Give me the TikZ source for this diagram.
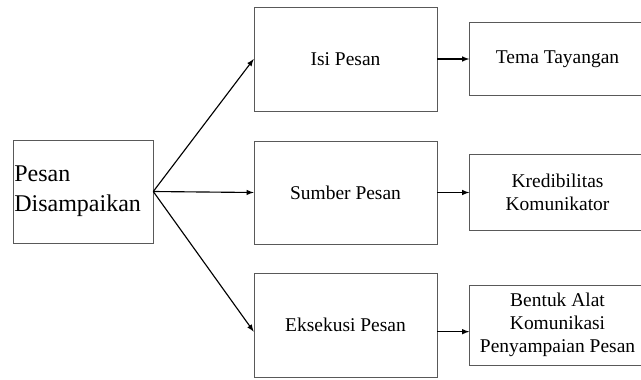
\documentclass[tikz,border=0pt]{standalone}
\usepackage{fontspec}
\setmainfont{Liberation Serif}
\usetikzlibrary{positioning}
\usetikzlibrary{arrows.meta}
\tikzset{
  -latex, line width=0.6pt,
  box/.style = {rectangle, draw=black!65, align=center, inner sep=1pt},
  start/.style = {box, align=left, text width=103pt, minimum height=77.25pt,
   font=\fontsize{18}{22.5}\selectfont},
  mid/.style = {box, minimum width=137.25pt, minimum height=78pt,
   font=\fontsize{14.6}{17.25}\selectfont},
  side/.style = {box, minimum width=132pt,
   font=\fontsize{14.6}{17.25}\selectfont},
  arrow/.style = {line width=0.85pt, black},
}
\begin{document}
\begin{tikzpicture}[x=0.75pt, y=-0.75pt]
  \useasboundingbox (0,0) rectangle (641,379);
  \node (pesan) [start] at (83,191.5) {Pesan\\Disampaikan};
  \node (isi) [mid] at (345.5,59) {Isi Pesan};
  \node (sumber) [mid, minimum height=77.25pt] at (345.5,192.5) {Sumber Pesan};
  \node (eksekusi) [mid] at (345.5,325) {\raisebox{-4pt}{Eksekusi Pesan}};
  \node (tema) [side, minimum height=54.75pt, right=24pt of isi] {Tema Tayangan};
  \node (kredibilitas) [side, minimum height=57pt, right=24pt of sumber] {Kredibilitas\\Komunikator};
  \node (bentuk) [side, minimum height=60pt, right=24pt of eksekusi] {Bentuk Alat\\Komunikasi\\Penyampaian Pesan};
  % dari pesan ke tiga unsur
  \path[arrow] (pesan.east) edge (isi.west);
  \path[arrow] (pesan.east) edge (sumber.west);
  \path[arrow] (pesan.east) edge ([yshift=-5pt]eksekusi.west);
  % ke sub unsur
  \path[arrow] (isi) edge (tema);
  \path[arrow] (sumber) edge (kredibilitas);
  \path[arrow] ([yshift=-5pt]eksekusi.east) edge ([yshift=-5pt]eksekusi.east -| bentuk.west);
\end{tikzpicture}
\end{document}
